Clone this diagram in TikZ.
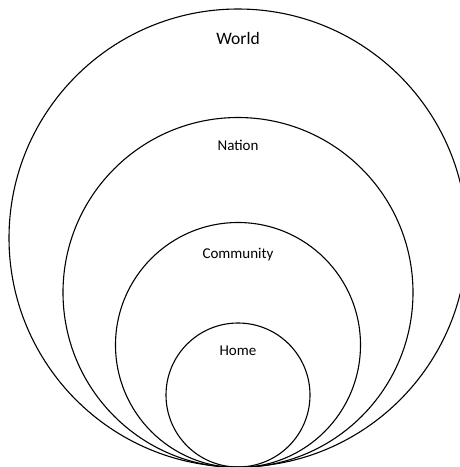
\documentclass[tikz,border=0pt]{standalone}
\usepackage{fontspec}
\setmainfont{Carlito}
\begin{document}
\begin{tikzpicture}[x=1pt,y=-1pt,
  ring/.style={draw=black,line width=1.1pt},
  lbl/.style={anchor=base,inner sep=0pt,font=\fontsize{15}{18}\selectfont},
  biglbl/.style={anchor=base,inner sep=0pt,font=\fontsize{17.5}{21}\selectfont}]
\useasboundingbox (0,0) rectangle (460,467);
\clip (0,0) rectangle (460,467);
\fill[white] (0,0) rectangle (460,467);
\draw[ring] (238,238) circle[radius=229];
\draw[ring] (238,292.5) circle[radius=175];
\draw[ring] (238,345) circle[radius=122.5];
\draw[ring] (238,395) circle[radius=72];
\node[biglbl] (world) at (238,44.3) {World};
\node[lbl] (nation) at (238,150.7) {Nation};
\node[lbl] (community) at (238,258.3) {Community};
\node[lbl] (home) at (238,355.7) {Home};
\end{tikzpicture}
\end{document}
